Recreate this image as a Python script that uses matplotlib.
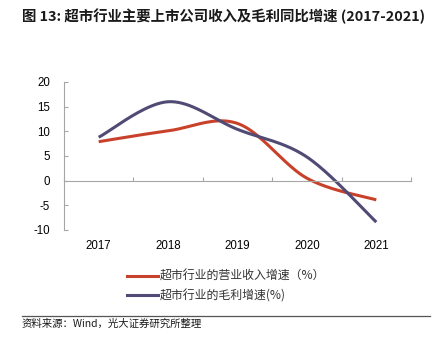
import numpy as np
import matplotlib as mpl
mpl.use('Agg')
import matplotlib.pyplot as plt
from matplotlib.lines import Line2D

years = ['2017', '2018', '2019', '2020', '2021']
revenue = [7.9, 10.1, 11.6, 0.5, -3.9]
gross_profit = [8.8, 16.0, 10.4, 4.8, -8.4]
labels = ['超市行业的营业收入增速（%）', '超市行业的毛利增速(%)']
colors = ['#C8412A', '#4F4B74']

title = '图 13: 超市行业主要上市公司收入及毛利同比增速 (2017-2021)'
source = '资料来源：Wind，光大证券研究所整理'

plt.rcParams['font.family'] = ['Liberation Sans', 'Noto Sans CJK SC']
plt.rcParams['axes.unicode_minus'] = False
cjk = ['Noto Sans CJK SC', 'DejaVu Sans']


def smooth(xs, ys, n=40):
    # catmull-rom style bezier, like excel smoothed lines
    p = np.column_stack([xs, ys]).astype(float)
    pts = np.vstack([p[0], p, p[-1]])
    out = []
    t = np.linspace(0, 1, n)[:, None]
    for i in range(1, len(pts) - 2):
        p0, p1, p2, p3 = pts[i - 1], pts[i], pts[i + 1], pts[i + 2]
        c1 = p1 + (p2 - p0) / 6
        c2 = p2 - (p3 - p1) / 6
        seg = ((1 - t) ** 3) * p1 + 3 * ((1 - t) ** 2) * t * c1 + 3 * (1 - t) * t ** 2 * c2 + t ** 3 * p2
        out.append(seg if i == 1 else seg[1:])
    out = np.vstack(out)
    return out[:, 0], out[:, 1]


fig = plt.figure(figsize=(4.44, 3.45), dpi=100)
ax = fig.add_axes([64 / 444, 1 - 230 / 345, 347 / 444, 148 / 345])

x = np.arange(len(years))
for vals, c in zip([revenue, gross_profit], colors):
    sx, sy = smooth(x, vals)
    ax.plot(sx, sy, color=c, lw=2.2, solid_capstyle='butt')

ax.set_xlim(-0.5, len(years) - 0.5)
ax.set_ylim(-10, 20)
ax.set_yticks(range(-10, 21, 5))
for s in ['top', 'right']:
    ax.spines[s].set_visible(False)
ax.spines['bottom'].set_position(('data', 0))
ax.spines['bottom'].set_color('#A6A6A6')
ax.spines['left'].set_color('#A6A6A6')
ax.set_xticks(np.arange(len(years) + 1) - 0.5)
ax.set_xticklabels([])
ax.tick_params(axis='x', direction='in', length=3, color='#A6A6A6')
ax.tick_params(axis='y', direction='in', length=3, color='#A6A6A6', labelsize=8.3, pad=10)

trans = mpl.transforms.blended_transform_factory(ax.transData, ax.transAxes)
for xi, yr in zip(x, years):
    ax.text(xi, -0.065, yr, transform=trans, ha='center', va='top', fontsize=8.3)

handles = [Line2D([], [], color=c, lw=2.2) for c in colors]
fig.legend(handles, labels, loc='upper left', bbox_to_anchor=(116 / 444, 1 - 259 / 345),
           frameon=False, prop={'family': cjk, 'size': 8.6}, handlelength=2.6,
           handletextpad=0.15, labelspacing=0.55, labelcolor='#333333')

fig.text(22 / 444, 1 - 16 / 345, title, fontsize=10.4, fontweight='bold', va='center',
         family=cjk, color='#1a1a1a')
fig.add_artist(Line2D([22 / 444, 430 / 444], [1 - 316 / 345] * 2, color='#555555', lw=0.9))
fig.text(22 / 444, 1 - 324 / 345, source, fontsize=7.5, va='center', family=cjk, color='#1a1a1a')

fig.savefig('out.png', dpi=100)
